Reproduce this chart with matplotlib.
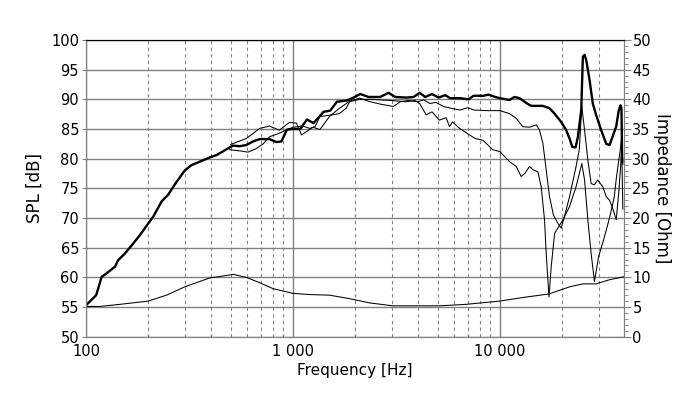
import matplotlib.pyplot as plt
from matplotlib.ticker import FixedLocator, FuncFormatter, MultipleLocator
import numpy as np

# on-axis SPL (thick line)
f_main = [100, 112, 119, 125, 138, 143, 154, 169, 182, 200, 211, 232, 249, 274, 300, 323,
          396, 427, 495, 513, 553, 595, 641, 690, 771, 831, 879, 936, 1000, 1085, 1168,
          1258, 1406, 1515, 1631, 1823, 1963, 2114, 2319, 2640, 2898, 3121, 3552, 3830,
          4093, 4361, 4695, 5056, 5444, 5755, 6434, 7055, 7462, 8336, 8817, 9496, 10000,
          11135, 11770, 12449, 13405, 14167, 16137, 17378, 18375, 19780, 20910, 21720,
          22380, 23230, 23840, 24740, 25190, 25670, 26150, 27120, 28130, 29170, 30880,
          32670, 33900, 36490, 37500, 38300, 38700, 39000]
spl_main = [55.3, 57.0, 60.1, 60.6, 61.8, 62.9, 64.0, 65.7, 67.1, 69.1, 70.2, 72.8, 73.9,
            76.1, 78.0, 78.9, 80.2, 80.6, 81.9, 82.2, 82.1, 82.3, 82.9, 83.3, 83.3, 82.8,
            82.9, 84.9, 85.0, 85.0, 86.6, 86.0, 87.9, 88.1, 89.6, 89.8, 90.3, 90.9, 90.4,
            90.4, 91.1, 90.4, 90.3, 90.4, 91.1, 90.4, 90.9, 90.3, 90.7, 90.2, 90.2, 90.0,
            90.6, 90.6, 90.8, 90.4, 90.2, 89.9, 90.4, 90.2, 89.4, 88.9, 88.9, 88.5, 87.6,
            86.2, 84.8, 83.4, 82.0, 81.9, 83.7, 88.2, 97.2, 97.5, 96.6, 93.3, 89.3, 87.4,
            84.8, 82.5, 82.3, 85.4, 88.0, 89.0, 88.5, 79.5]

# off-axis SPL, upper thin line
f_off1 = [500, 595, 690, 770, 860, 960, 1040, 1100, 1250, 1350, 1500, 1650, 1880, 2100,
          2360, 2640, 3060, 3300, 3600, 4000, 4280, 4600, 4900, 5340, 5800, 6430, 7000,
          7500, 8660, 10000, 11135, 12000, 12900, 13900, 15000, 15550, 16140, 16750,
          17380, 18150, 19070, 19780, 20500, 21720, 23360, 24200, 24890, 25670, 26620,
          27620, 28650, 29700, 31420, 32670, 33900, 35200, 36500, 37500, 38300, 38800,
          39300]
spl_off1 = [82.4, 83.4, 85.1, 85.5, 84.8, 86.1, 86.0, 84.0, 85.3, 84.9, 87.1, 88.3, 89.7,
            90.2, 89.6, 89.2, 88.8, 89.6, 89.8, 89.6, 89.9, 89.3, 89.5, 88.8, 88.5, 88.2,
            88.6, 88.2, 88.1, 88.1, 87.6, 86.8, 85.4, 85.3, 85.7, 84.8, 82.6, 78.1, 73.6,
            70.5, 69.1, 68.3, 70.2, 73.6, 78.7, 81.5, 88.8, 84.8, 79.8, 75.8, 75.6, 76.4,
            75.3, 73.6, 73.0, 71.5, 69.7, 74.0, 78.5, 82.0, 71.5]

# off-axis SPL, lower thin line
f_off2 = [495, 560, 606, 665, 718, 771, 862, 925, 1000, 1115, 1205, 1280, 1350, 1560,
          1676, 1808, 1880, 2100, 2400, 3000, 3500, 3900, 4100, 4400, 4700, 5100, 5500,
          5710, 5900, 6390, 7140, 7600, 8280, 9250, 10000, 11135, 11990, 12680, 13200,
          13910, 14500, 15260, 15840, 16440, 16750, 17280, 17710, 18390, 19070, 20170,
          21700, 23360, 24890, 25670, 26620, 27620, 28650, 30000, 31700, 33000, 34300,
          35700, 36500, 37300, 38200, 38900, 39300]
spl_off2 = [81.5, 81.3, 81.1, 81.7, 82.5, 83.7, 84.3, 84.8, 85.3, 85.5, 85.1, 85.4, 87.1,
            87.4, 87.6, 88.5, 89.6, 90.0, 90.0, 89.8, 89.6, 89.8, 89.3, 87.4, 87.9, 86.5,
            86.9, 85.4, 86.2, 85.1, 84.0, 83.4, 83.1, 81.5, 81.2, 79.5, 78.7, 77.0, 77.5,
            78.7, 78.1, 77.8, 75.3, 69.7, 64.0, 56.7, 61.8, 67.4, 68.3, 69.7, 71.9, 75.3,
            79.2, 76.4, 69.7, 64.0, 59.3, 63.5, 66.3, 68.5, 70.8, 73.5, 76.5, 79.0, 81.5,
            84.0, 79.0]

# impedance (right axis)
f_imp = [100, 117, 146, 200, 245, 300, 396, 495, 515, 595, 690, 800, 1000, 1200, 1500,
         1884, 2340, 3040, 5100, 6880, 10000, 12900, 17280, 21720, 25190, 29170, 33900,
         39800]
z_imp = [5.1, 5.1, 5.45, 6.0, 7.0, 8.4, 9.9, 10.4, 10.5, 10.0, 9.1, 8.1, 7.3, 7.1, 7.0,
         6.4, 5.7, 5.2, 5.2, 5.45, 6.0, 6.6, 7.2, 8.4, 8.9, 8.9, 9.6, 10.1]

grid_col = '#808080'

fig = plt.figure(figsize=(7, 3.99), dpi=100)
ax = fig.add_axes([0.1229, 0.1562, 0.7685, 0.7435])
ax2 = ax.twinx()

ax.set_xscale('log')
ax.set_xlim(100, 39800)
ax.set_ylim(50, 100)
ax2.set_ylim(0, 50)

# сетка
ax.yaxis.set_major_locator(MultipleLocator(5))
ax.xaxis.set_major_locator(FixedLocator([100, 1000, 10000]))
minors = [m * d for d in (100, 1000, 10000) for m in range(2, 10) if m * d < 39800]
ax.xaxis.set_minor_locator(FixedLocator(minors))
ax.xaxis.set_major_formatter(FuncFormatter(lambda v, p: f'{int(v):,}'.replace(',', ' ')))
ax.xaxis.set_minor_formatter(FuncFormatter(lambda v, p: ''))
ax.grid(axis='y', color=grid_col, linewidth=1.0)
ax.grid(axis='x', which='major', color=grid_col, linewidth=1.0)
ax.grid(axis='x', which='minor', color=grid_col, linewidth=0.8, linestyle=(0, (3, 3)))
ax.set_axisbelow(True)

ax2.yaxis.set_major_locator(MultipleLocator(5))
ax2.yaxis.set_minor_locator(MultipleLocator(1))

# кривые
ax.plot(f_off1, spl_off1, color='black', linewidth=0.75)
ax.plot(f_off2, spl_off2, color='black', linewidth=0.75)
ax.plot(f_main, spl_main, color='black', linewidth=1.7)
ax2.plot(f_imp, z_imp, color='black', linewidth=0.75)

# оси и подписи
for a in (ax, ax2):
    for s in a.spines.values():
        s.set_color(grid_col)
    a.spines['top'].set_color('black')
ax.tick_params(axis='x', which='both', length=0, labelsize=10.5, pad=5)
ax.tick_params(axis='y', length=3, color=grid_col, labelsize=10.5, pad=2)
ax2.tick_params(axis='y', which='major', length=5, color=grid_col, labelsize=10.5, pad=1)
ax2.tick_params(axis='y', which='minor', length=3, color=grid_col)

ax.set_xlabel('Frequency [Hz]', fontsize=11, labelpad=3)
ax.set_ylabel('SPL [dB]', fontsize=12, labelpad=5)
ax2.set_ylabel('Impedance [Ohm]', fontsize=12, rotation=270, labelpad=14)

fig.savefig('out.png', dpi=100)
